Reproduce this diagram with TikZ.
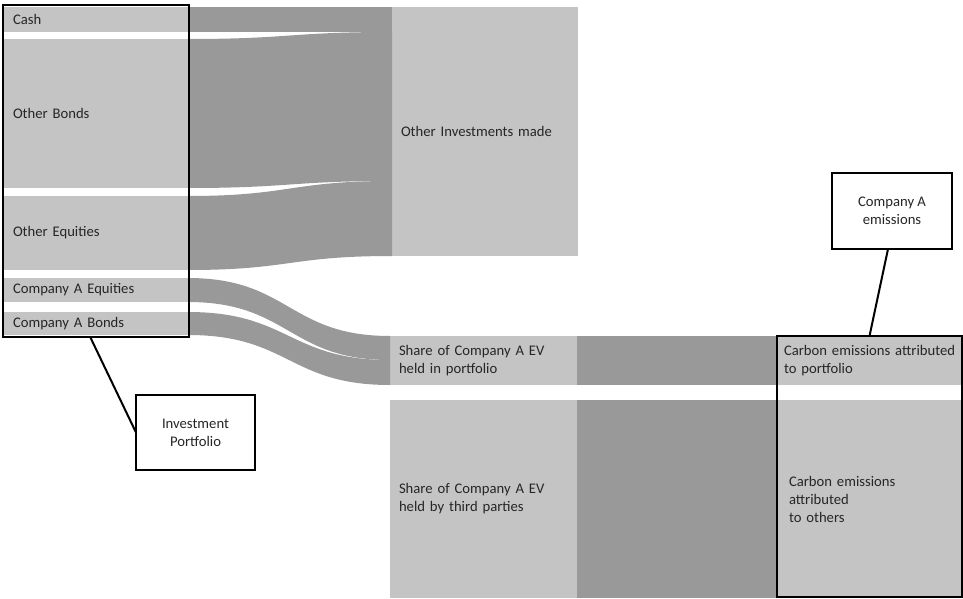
\documentclass[tikz,border=0pt]{standalone}
\usepackage{fontspec}
\setmainfont{Carlito}
\definecolor{barlight}{RGB}{196,196,196}
\definecolor{flowgray}{RGB}{153,153,153}
\definecolor{inkgray}{RGB}{38,38,38}
\begin{document}
\begin{tikzpicture}[x=0.75pt,y=-0.75pt,
  bar/.style={fill=barlight, anchor=north west, inner xsep=6.75pt, inner ysep=0pt, outer sep=0pt, align=left, text=inkgray, font=\fontsize{11}{13.5}\selectfont},
  flow/.style={fill=flowgray},
  grp/.style={draw, line width=1.5pt, anchor=north west, outer sep=0pt},
  callout/.style={draw, fill=white, line width=1.5pt, outer sep=0pt, align=center, text=inkgray, font=\fontsize{11}{13.5}\selectfont}]
\useasboundingbox (0,0) rectangle (963,599);
\node[bar, text width=124.5pt, minimum height=18.75pt] (inv0) at (4,7){Cash};
\node[bar, text width=124.5pt, minimum height=111.75pt] (inv1) at (4,39){Other Bonds};
\node[bar, text width=124.5pt, minimum height=55.5pt] (inv2) at (4,196){Other Equities};
\node[bar, text width=124.5pt, minimum height=18pt] (inv3) at (4,278){Company A Equities};
\node[bar, text width=124.5pt, minimum height=17.25pt] (inv4) at (4,312){Company A Bonds};
\node[bar, text width=126pt, minimum height=186.75pt] (oth0) at (392,7){Other Investments made};
\node[bar, text width=126.75pt, minimum height=36.75pt] (shr0) at (390,336){Share of Company A EV\\held in portfolio};
\node[bar, text width=126.75pt, minimum height=148.5pt] (shr1) at (390,400){Share of Company A EV\\held by third parties};
\node[bar, text width=129pt, inner xsep=4.5pt, minimum height=36.75pt] (co2e0) at (778,336){Carbon emissions attributed\\to portfolio};
\node[bar, text width=121.5pt, inner xsep=8.25pt, minimum height=148.5pt] (co2e1) at (778,400){Carbon emissions\\attributed\\to others};
\coordinate (oth0a) at (392,32);
\coordinate (oth0b) at (392,181);
\coordinate (shr0a) at (390,360);
\fill[flow] (inv0.north east) -- (oth0.north west) -- (oth0a) -- (inv0.south east) -- cycle;
\fill[flow] (inv1.north east) .. controls +(102,0) and +(-102,0) .. (oth0a) -- (oth0b) .. controls +(-102,0) and +(102,0) .. (inv1.south east) -- cycle;
\fill[flow] (inv2.north east) .. controls +(102,0) and +(-102,0) .. (oth0b) -- (oth0.south west) .. controls +(-102,0) and +(102,0) .. (inv2.south east) -- cycle;
\fill[flow] (inv3.north east) .. controls +(101,0) and +(-101,0) .. (shr0.north west) -- (shr0a) .. controls +(-101,0) and +(101,0) .. (inv3.south east) -- cycle;
\fill[flow] (inv4.north east) .. controls +(101,0) and +(-101,0) .. (shr0a) -- (shr0.south west) .. controls +(-101,0) and +(101,0) .. (inv4.south east) -- cycle;
\fill[flow] (shr0.north east) -- (co2e0.north west) -- (co2e0.south west) -- (shr0.south east) -- cycle;
\fill[flow] (shr1.north east) -- (co2e1.north west) -- (co2e1.south west) -- (shr1.south east) -- cycle;
\node[grp, minimum width=139.5pt, minimum height=249pt] (grp0) at (3,5){};
\node[grp, minimum width=138.75pt, minimum height=195.75pt] (grp1) at (777,336){};
\node[callout, minimum width=89.25pt, minimum height=56.25pt] (lbl0) at (195.5,432.5){Investment\\Portfolio};
\node[callout, minimum width=90pt, minimum height=57pt] (lbl1) at (892,211){Company A\\emissions};
\draw[line width=1.5pt] (grp0.-92.4) -- (lbl0.west);
\draw[line width=1.5pt] (lbl1.-96) -- (grp1.north);
\end{tikzpicture}
\end{document}
